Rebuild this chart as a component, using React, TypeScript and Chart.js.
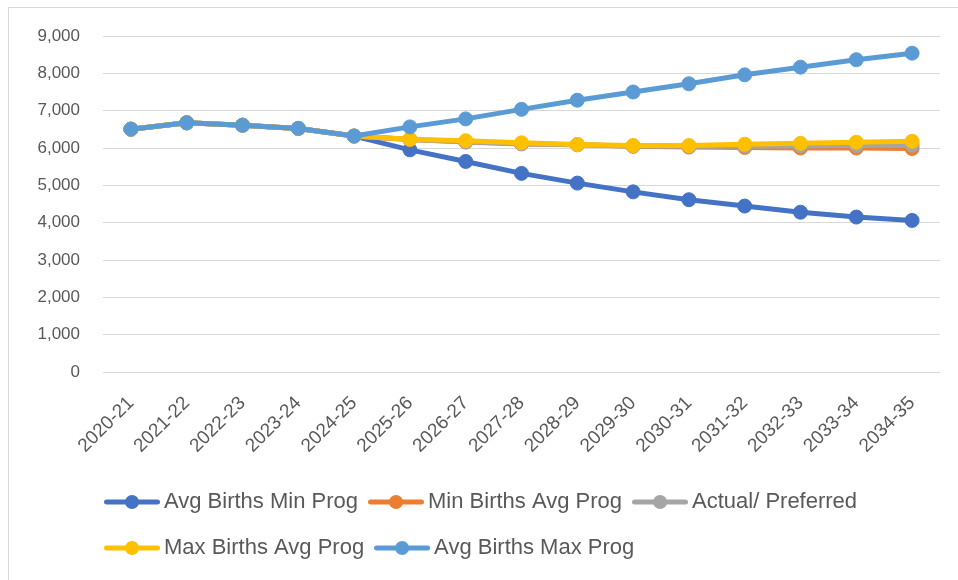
import React, { useEffect, useRef } from 'react';
import { Chart, registerables } from 'chart.js';

Chart.register(...registerables);

// ---- data ----
const categories = [
  '2020-21', '2021-22', '2022-23', '2023-24', '2024-25', '2025-26', '2026-27', '2027-28',
  '2028-29', '2029-30', '2030-31', '2031-32', '2032-33', '2033-34', '2034-35',
];
const seriesNames = [
  'Avg Births Min Prog',
  'Min Births Avg Prog',
  'Actual/ Preferred',
  'Max Births Avg Prog',
  'Avg Births Max Prog',
];
const avgBirthsMinProg = [6505, 6675, 6610, 6525, 6320, 5950, 5640, 5320, 5060, 4825, 4615, 4445, 4280, 4150, 4060];
const minBirthsAvgProg = [6505, 6675, 6610, 6525, 6320, 6225, 6160, 6110, 6085, 6045, 6025, 6015, 6000, 6000, 5985];
const actualPreferred = [6505, 6675, 6610, 6525, 6320, 6230, 6165, 6115, 6090, 6055, 6045, 6045, 6055, 6065, 6075];
const maxBirthsAvgProg = [6505, 6675, 6610, 6525, 6320, 6235, 6195, 6140, 6095, 6065, 6065, 6100, 6125, 6155, 6180];
const avgBirthsMaxProg = [6505, 6675, 6610, 6525, 6320, 6565, 6780, 7035, 7280, 7500, 7720, 7960, 8165, 8365, 8540];
const yTickValues = [0, 1000, 2000, 3000, 4000, 5000, 6000, 7000, 8000, 9000];

const seriesValues = [avgBirthsMinProg, minBirthsAvgProg, actualPreferred, maxBirthsAvgProg, avgBirthsMaxProg];
const seriesColors = ['#4472C4', '#ED7D31', '#A5A5A5', '#FFC000', '#5B9BD5'];

// ---- styles ----
const FONT = "'Liberation Sans', Arial, sans-serif";
const TEXT = '#595959';
const GRID = '#d9d9d9';
const LEGEND_FS = 22;
const LEGEND_ROW = 46;
const LEGEND_PAD = LEGEND_ROW - LEGEND_FS;
const SWATCH_LEN = 56;
const SWATCH_OFF = 10 - LEGEND_PAD;
const BOX_W = 60 + SWATCH_OFF - LEGEND_FS / 2;
const IMG_W = BOX_W - 2 * SWATCH_OFF;

function makeSwatch(color: string) {
  const c = document.createElement('canvas');
  c.width = Math.round(IMG_W);
  c.height = 18;
  const g = c.getContext('2d')!;
  g.strokeStyle = color;
  g.lineWidth = 5;
  g.lineCap = 'round';
  g.beginPath();
  g.moveTo(2.5, 9);
  g.lineTo(SWATCH_LEN - 2.5, 9);
  g.stroke();
  g.fillStyle = color;
  g.beginPath();
  g.arc(SWATCH_LEN / 2, 9, 7, 0, Math.PI * 2);
  g.fill();
  return c;
}

const legendShift = {
  id: 'legendShift',
  afterLayout(chart: any) {
    if (chart.legend) chart.legend.left = 85;
  },
};

export default function App() {
  const ref = useRef<HTMLCanvasElement | null>(null);

  useEffect(() => {
    if (!ref.current) return;
    const swatches = seriesColors.map(makeSwatch);
    const chart = new Chart(ref.current, {
      type: 'line',
      data: {
        labels: categories,
        datasets: seriesNames.map((name, i) => ({
          label: name,
          data: seriesValues[i],
          borderColor: seriesColors[i],
          backgroundColor: seriesColors[i],
          pointBackgroundColor: seriesColors[i],
          pointBorderColor: seriesColors[i],
          borderWidth: 5,
          pointRadius: 7,
          pointHoverRadius: 7,
          pointBorderWidth: 1,
          tension: 0,
          borderJoinStyle: 'round' as const,
          borderCapStyle: 'round' as const,
          fill: false,
          order: seriesNames.length - i,
        })),
      },
      options: {
        responsive: false,
        animation: false,
        layout: { padding: { top: 28, right: 18, bottom: 11, left: 0 } },
        plugins: {
          tooltip: { enabled: false },
          legend: {
            position: 'bottom',
            align: 'start',
            labels: {
              usePointStyle: true,
              pointStyleWidth: BOX_W,
              boxHeight: LEGEND_FS,
              padding: LEGEND_PAD,
              color: TEXT,
              font: { family: FONT, size: LEGEND_FS },
              sort: (a: any, b: any) => a.datasetIndex - b.datasetIndex,
              generateLabels: (c: any) => {
                const items = (Chart.defaults.plugins.legend.labels as any).generateLabels(c);
                items.forEach((it: any) => {
                  it.pointStyle = swatches[it.datasetIndex];
                });
                return items;
              },
            },
          },
        },
        scales: {
          x: {
            type: 'category',
            offset: true,
            grid: { display: false, drawTicks: false },
            border: { display: false },
            ticks: {
              autoSkip: false,
              minRotation: 45,
              maxRotation: 45,
              padding: 20,
              labelOffset: 0,
              color: TEXT,
              font: { family: FONT, size: 19 },
            },
            afterFit: (s: any) => {
              s.height = 95;
            },
          },
          y: {
            min: yTickValues[0],
            max: yTickValues[yTickValues.length - 1],
            afterBuildTicks: (s: any) => {
              s.ticks = yTickValues.map((v) => ({ value: v }));
            },
            ticks: {
              padding: 5,
              color: TEXT,
              font: { family: FONT, size: 17 },
              callback: (v: any) => Number(v).toLocaleString('en-US'),
            },
            grid: {
              color: GRID,
              lineWidth: 1,
              drawTicks: true,
              tickLength: 18,
              tickColor: 'rgba(0,0,0,0)',
            },
            border: { display: false },
            afterFit: (s: any) => {
              s.width = 94;
            },
          },
        },
      },
      plugins: [legendShift],
    });
    return () => chart.destroy();
  }, []);

  return (
    <div
      style={{
        position: 'fixed',
        left: 8,
        top: 7,
        width: 950,
        height: 573,
        boxSizing: 'border-box',
        borderLeft: '1px solid #d9d9d9',
        borderTop: '1px solid #d9d9d9',
        background: '#fff',
      }}
    >
      <canvas ref={ref} width={949} height={572} style={{ display: 'block', width: 949, height: 572 }} />
    </div>
  );
}
